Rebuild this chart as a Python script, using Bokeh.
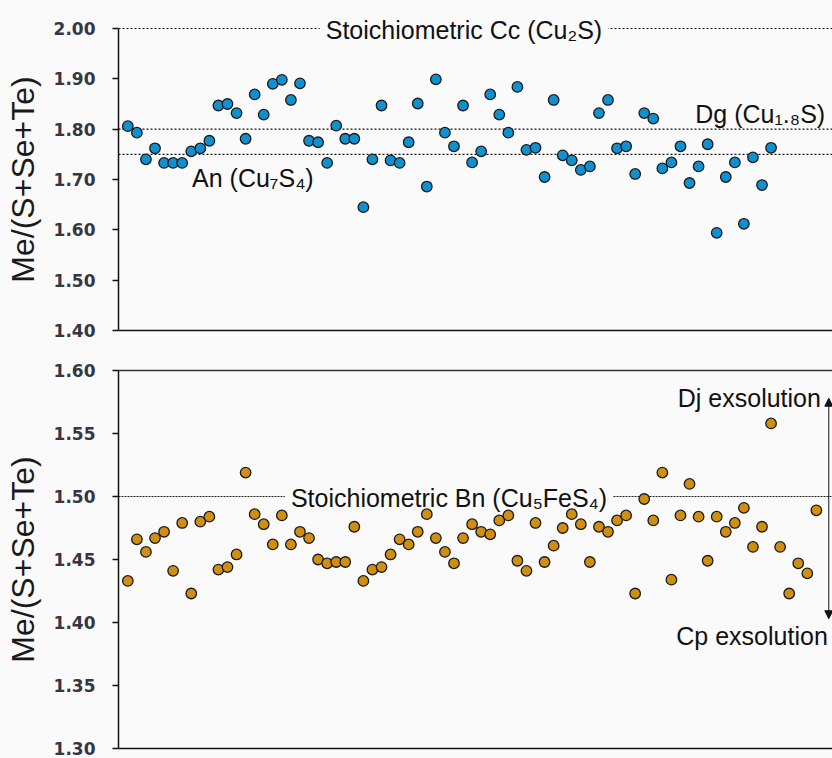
from bokeh.plotting import figure
from bokeh.layouts import column
from bokeh.models import (Range1d, Span, Label, FixedTicker, NumeralTickFormatter,
                          LinearAxis, Arrow, NormalHead, ColumnDataSource)
from bokeh.embed import file_html
from bokeh.resources import INLINE

# ---------------- data ----------------
cc_an_values = [1.806, 1.793, 1.740, 1.762, 1.733, 1.733, 1.733, 1.756, 1.762, 1.777,
                1.847, 1.850, 1.832, 1.781, 1.869, 1.829, 1.890, 1.898, 1.858, 1.891,
                1.777, 1.774, 1.733, 1.807, 1.781, 1.781, 1.645, 1.740, 1.847, 1.738,
                1.733, 1.774, 1.851, 1.686, 1.899, 1.793, 1.766, 1.847, 1.734, 1.756,
                1.869, 1.829, 1.793, 1.884, 1.759, 1.763, 1.705, 1.858, 1.748, 1.738,
                1.719, 1.726, 1.832, 1.858, 1.762, 1.766, 1.711, 1.832, 1.821, 1.722,
                1.734, 1.766, 1.693, 1.726, 1.770, 1.594, 1.705, 1.734, 1.612, 1.744,
                1.689, 1.763]

bn_values = [1.433, 1.466, 1.456, 1.467, 1.472, 1.441, 1.479, 1.423, 1.480, 1.484,
             1.442, 1.444, 1.454, 1.519, 1.486, 1.478, 1.462, 1.485, 1.462, 1.472,
             1.467, 1.450, 1.447, 1.448, 1.448, 1.476, 1.433, 1.442, 1.444, 1.454,
             1.466, 1.462, 1.472, 1.486, 1.467, 1.456, 1.447, 1.467, 1.478, 1.472,
             1.470, 1.481, 1.485, 1.449, 1.441, 1.479, 1.448, 1.461, 1.475, 1.486,
             1.478, 1.448, 1.476, 1.472, 1.481, 1.485, 1.423, 1.498, 1.481, 1.519,
             1.434, 1.485, 1.510, 1.484, 1.449, 1.484, 1.472, 1.479, 1.491, 1.460,
             1.476, 1.558, 1.460, 1.423, 1.447, 1.439, 1.489]

cc_an_x = list(range(1, len(cc_an_values) + 1))
bn_x = list(range(1, len(bn_values) + 1))

top_ticks = [1.40, 1.50, 1.60, 1.70, 1.80, 1.90, 2.00]
bot_ticks = [1.30, 1.35, 1.40, 1.45, 1.50, 1.55, 1.60]
top_bounds = (1.40, 2.00)
bot_bounds = (1.30, 1.60)

top_ref_levels = [2.00, 1.80, 1.75]
bot_ref_level = 1.50

y_label = "Me/(S+Se+Te)"

# ---------------- style ----------------
BG = "#fafafa"
TEXT_FONT = "Liberation Sans"
TICK_FONT = "DejaVu Sans"
AXIS_COLOR = "#111111"


def style_y(p, ticks, bounds):
    p.background_fill_color = BG
    p.border_fill_color = BG
    p.outline_line_color = None
    p.xgrid.visible = False
    p.ygrid.visible = False
    ya = p.yaxis[0]
    ya.bounds = bounds
    ya.ticker = FixedTicker(ticks=ticks)
    ya.formatter = NumeralTickFormatter(format="0.00")
    ya.minor_tick_line_color = None
    ya.major_tick_in = 0
    ya.major_tick_out = 6
    ya.major_tick_line_color = AXIS_COLOR
    ya.major_tick_line_width = 1.5
    ya.axis_line_color = AXIS_COLOR
    ya.axis_line_width = 1.5
    ya.major_label_text_font = TICK_FONT
    ya.major_label_text_font_style = "bold"
    ya.major_label_text_font_size = "17px"
    ya.major_label_text_color = "#363640"
    ya.major_label_standoff = 17
    ya.axis_label = y_label
    ya.axis_label_text_font = TEXT_FONT
    ya.axis_label_text_font_style = "normal"
    ya.axis_label_text_font_size = "32px"
    ya.axis_label_text_color = "#1a1a1a"
    ya.axis_label_standoff = 10


def plain_x(axis):
    axis.ticker = FixedTicker(ticks=[])
    axis.major_tick_line_color = None
    axis.minor_tick_line_color = None
    axis.major_tick_out = 0
    axis.major_label_standoff = 0
    axis.axis_line_color = AXIS_COLOR
    axis.axis_line_width = 1.5


def add_label(p, x, y, text, bg=False):
    lab = Label(x=x, y=y, text=text, text_font=TEXT_FONT, text_font_size="25px",
                text_color="#111111", text_align="center", text_baseline="middle")
    if bg:
        lab.background_fill_color = BG
        lab.padding = 6
        lab.level = "underlay"
    p.add_layout(lab)


x_start, x_end = -0.03, 78.78
# top panel: 302 px for 0.6 units, frame padded 12 px above and below the axis bounds
top_pad = 12 * 0.6 / 302

# ---------------- top panel ----------------
p1 = figure(frame_width=714, frame_height=326, x_range=Range1d(x_start, x_end),
            y_range=Range1d(top_bounds[0] - top_pad, top_bounds[1] + top_pad),
            output_backend="svg", toolbar_location=None,
            min_border_left=118, min_border_right=0, min_border_top=16, min_border_bottom=8)
style_y(p1, top_ticks, top_bounds)
p1.xaxis.visible = False
for lvl in top_ref_levels:
    p1.add_layout(Span(location=lvl, dimension="width", line_color=AXIS_COLOR,
                       line_width=1.2, line_dash="2 2", level="underlay"))
# x axis line of the upper panel at its lower bound
p1.add_layout(Span(location=top_bounds[0], dimension="width", line_color=AXIS_COLOR,
                   line_width=1.5, level="underlay"))
add_label(p1, 38.1, 1.997, "Stoichiometric Cc (Cu₂S)", bg=True)
add_label(p1, 70.8, 1.831, "Dg (Cu₁.₈S)")
add_label(p1, 14.8, 1.702, "An (Cu₇S₄)")
src1 = ColumnDataSource(dict(x=cc_an_x, y=cc_an_values))
p1.scatter("x", "y", source=src1, size=10.5, fill_color="#1190d0",
           line_color="#1a1a1a", line_width=1.3)

# ---------------- bottom panel ----------------
p2 = figure(frame_width=714, frame_height=378, x_range=Range1d(x_start, x_end),
            y_range=Range1d(*bot_bounds), output_backend="svg", toolbar_location=None,
            min_border_left=118, min_border_right=0, min_border_top=20, min_border_bottom=10)
style_y(p2, bot_ticks, bot_bounds)
plain_x(p2.xaxis[0])
top_axis = LinearAxis()
plain_x(top_axis)
top_axis.axis_line_color = "#333333"
p2.add_layout(top_axis, "above")
p2.add_layout(Span(location=bot_ref_level, dimension="width", line_color="#222222",
                   line_width=1, line_dash="2 1", level="underlay"))
add_label(p2, 36.45, 1.499, "Stoichiometric Bn (Cu₅FeS₄)", bg=True)
add_label(p2, 69.6, 1.578, "Dj exsolution")
add_label(p2, 69.9, 1.389, "Cp exsolution")
p2.add_layout(Arrow(x_start=78.37, y_start=1.403, x_end=78.37, y_end=1.578,
                    line_color="#111111", line_width=1,
                    start=NormalHead(size=8, fill_color="#111111", line_color="#111111"),
                    end=NormalHead(size=8, fill_color="#111111", line_color="#111111")))
src2 = ColumnDataSource(dict(x=bn_x, y=bn_values))
p2.scatter("x", "y", source=src2, size=10.5, fill_color="#d08e12",
           line_color="#1a1a1a", line_width=1.3)

layout = column(p1, p2, spacing=0, background=BG)
open("out.html", "w").write(file_html(layout, INLINE))
